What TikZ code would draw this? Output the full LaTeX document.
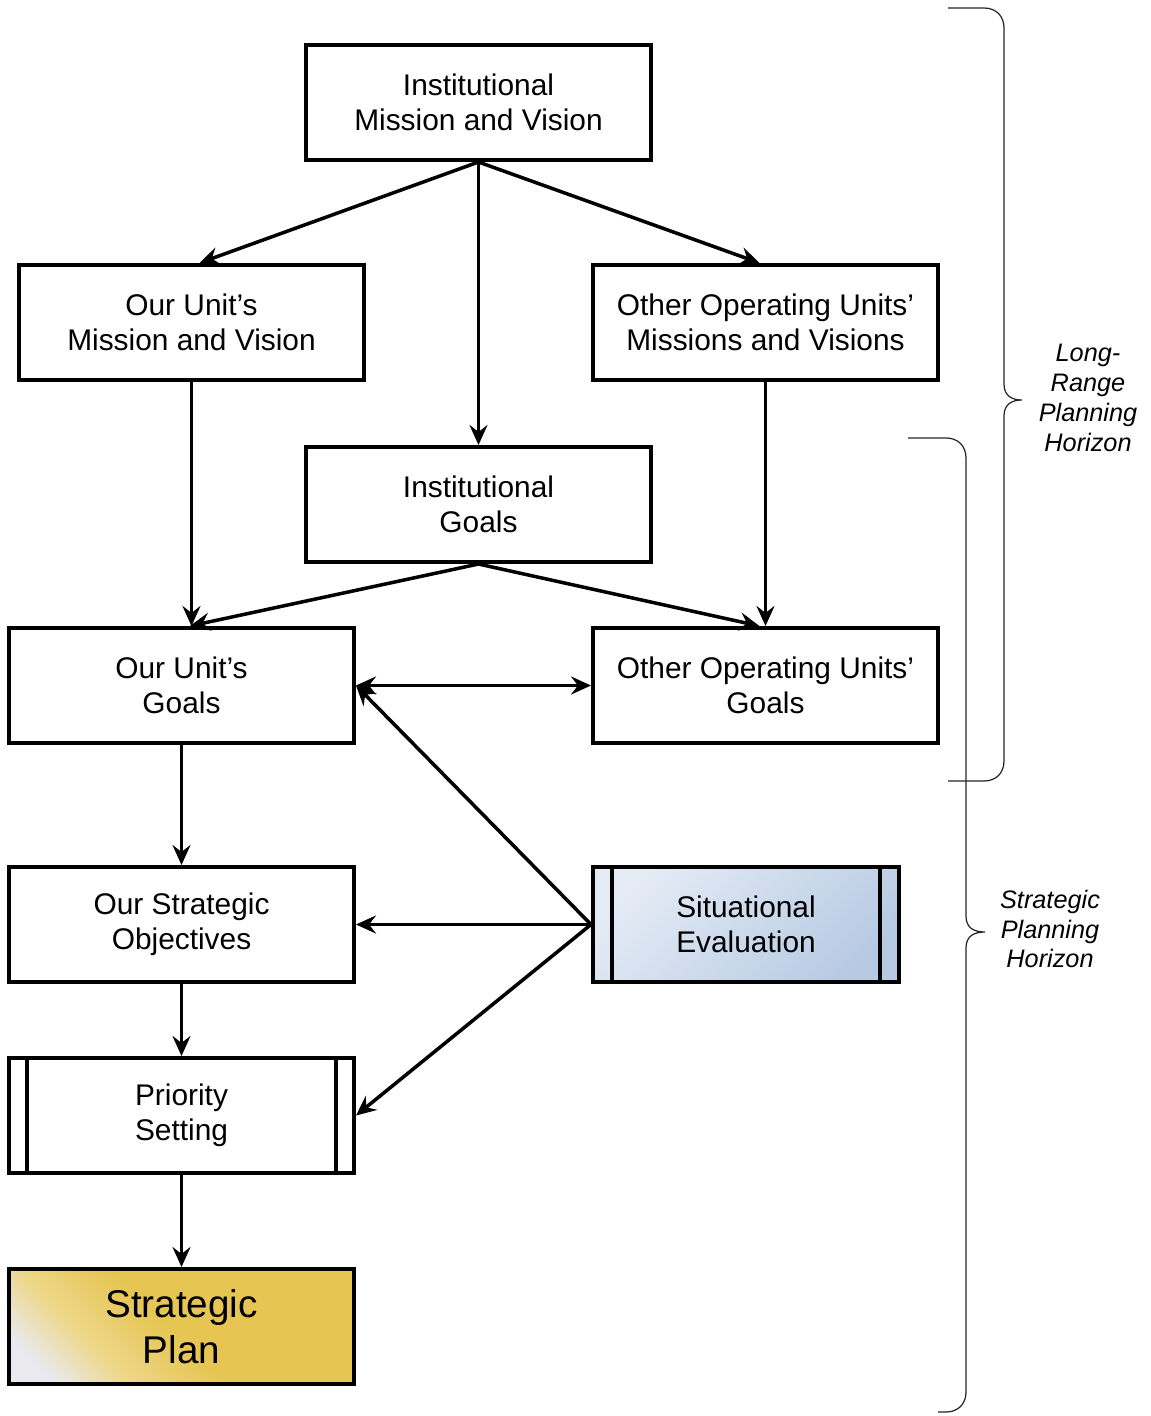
\documentclass[tikz,border=0pt]{standalone}
\usepackage{fontspec}
\setmainfont{Liberation Sans}
\usetikzlibrary{arrows.meta}

\definecolor{sitlight}{HTML}{E4EBF5}
\definecolor{sitdark}{HTML}{B7CAE3}
\definecolor{plangold}{HTML}{E6C552}
\definecolor{planlight}{HTML}{E9E9EE}

\pgfdeclareverticalshading{planshade}{100bp}{color(0bp)=(planlight); color(22bp)=(planlight);
  color(34bp)=(plangold!70!white); color(48bp)=(plangold); color(100bp)=(plangold)}

\tikzset{
  box/.style={draw, line width=2.3pt, minimum width=6.9cm, minimum height=2.3cm,
    inner sep=0pt, align=center, font=\fontsize{17}{20}\selectfont},
  barbox/.style={box, path picture={
      \draw[line width=2.3pt] ([xshift=#1]path picture bounding box.north west) -- ([xshift=#1]path picture bounding box.south west);
      \draw[line width=2.3pt] ([xshift=-#1]path picture bounding box.north east) -- ([xshift=-#1]path picture bounding box.south east);}},
  link/.style={line width=2pt, >={Stealth[length=0.4cm, width=0.36cm, inset=0.14cm]}, ->},
  horizon/.style={align=center, font=\fontsize{14.4}{17}\selectfont\itshape},
  brace/.style={line width=0.7pt, black!85},
}

\begin{document}
\begin{tikzpicture}[x=0.02cm, y=-0.02cm]
    \useasboundingbox (0,0) rectangle (1150,1416);

    % Boxes
    \node[box] (inst) at (478.5,102.5) {Institutional\\Mission and Vision};
    \node[box] (unitmv) at (191.5,322.5) {Our Unit’s\\Mission and Vision};
    \node[box] (othermv) at (765.5,322.5) {Other Operating Units’\\Missions and Visions};
    \node[box] (instgoals) at (478.5,504.5) {Institutional\\Goals};
    \node[box] (unitgoals) at (181.5,685.5) {Our Unit’s\\Goals};
    \node[box] (othergoals) at (765.5,685.5) {Other Operating Units’\\Goals};
    \node[box] (objectives) at (181.5,924.5) {Our Strategic\\Objectives};
    \node[barbox=0.38cm, minimum width=6.12cm, top color=sitlight, bottom color=sitdark,
      shading angle=45] (sitev) at (746,924.5) {Situational\\Evaluation};
    \node[barbox=0.35cm] (priority) at (181.5,1115.5) {Priority\\Setting};
    \node[box, font=\fontsize{22}{26}\selectfont, shade, shading=planshade,
      shading angle=-45] (plan) at (181.5,1326.5) {Strategic\\Plan};

    % Arrows
    \draw[link] (inst.south) -- ([xshift=0.16cm]unitmv.north);
    \draw[link] (inst.south) -- (instgoals.north);
    \draw[link] (inst.south) -- ([xshift=-0.12cm]othermv.north);
    \draw[link] (unitmv.south) -- (unitmv.south |- unitgoals.north);
    \draw[link] (othermv.south) -- (othergoals.north);
    \draw[link] (instgoals.south) -- ([xshift=0.17cm]unitgoals.north);
    \draw[link] (instgoals.south) -- ([xshift=-0.12cm]othergoals.north);
    \draw[link, <->] (unitgoals.east) -- (othergoals.west);
    \draw[link] (unitgoals.south) -- (objectives.north);
    \draw[link] (objectives.south) -- (priority.north);
    \draw[link] (priority.south) -- (plan.north);
    \draw[link] (sitev.west) -- (objectives.east);
    \draw[link] (sitev.west) -- (unitgoals.east);
    \draw[link] (sitev.west) -- (priority.east);

    % Horizon braces
    \draw[brace] (948,8) -- (984,8) .. controls (996,8) and (1004,16) .. (1004,28)
      -- (1004,384) .. controls (1004,396) and (1012,400) .. (1022,400)
      .. controls (1012,400) and (1004,404) .. (1004,416)
      -- (1004,761) .. controls (1004,773) and (996,781) .. (984,781) -- (948,781);
    \draw[brace] (908,438) -- (946,438) .. controls (958,438) and (966,446) .. (966,458)
      -- (966,916) .. controls (966,928) and (974,932) .. (985,932)
      .. controls (974,932) and (966,936) .. (966,948)
      -- (966,1392) .. controls (966,1404) and (958,1412) .. (946,1412) -- (938,1412);

    \node[horizon] (lrlabel) at (1088,398) {Long-\\Range\\Planning\\Horizon};
    \node[horizon] (splabel) at (1050,929) {Strategic\\Planning\\Horizon};

\end{tikzpicture}
\end{document}
